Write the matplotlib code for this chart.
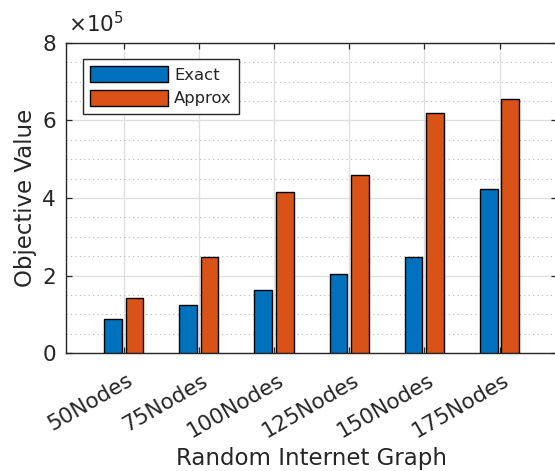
import numpy as np
import matplotlib
matplotlib.use('Agg')
import matplotlib.pyplot as plt
import matplotlib.transforms as mtransforms
from matplotlib.ticker import FuncFormatter, MultipleLocator

# data
categories = ['50Nodes', '75Nodes', '100Nodes', '125Nodes', '150Nodes', '175Nodes']
exact = [0.88e5, 1.24e5, 1.63e5, 2.04e5, 2.47e5, 4.23e5]
approx = [1.42e5, 2.47e5, 4.16e5, 4.60e5, 6.19e5, 6.55e5]

blue = '#0072BD'
orange = '#D95319'
dark = '#262626'

fig = plt.figure(figsize=(5.55, 4.71), dpi=100)
ax = fig.add_axes([0.1184, 0.2499, 0.886, 0.6594])

x = np.arange(1, len(categories) + 1)
w = 0.235
ax.bar(x - 0.143, exact, w, color=blue, edgecolor='black', linewidth=1.0,
       label='Exact', zorder=3)
ax.bar(x + 0.143, approx, w, color=orange, edgecolor='black', linewidth=1.0,
       label='Approx', zorder=3)

ax.set_xlim(0.23, 6.77)
ax.set_ylim(0, 8e5)
ax.set_xticks(x)
ax.set_xticklabels([])
# rotated category labels, anchored a bit right of each tick like MATLAB
lbl_tr = ax.get_xaxis_transform() + mtransforms.ScaledTranslation(
    3 / 100, -17 / 100, fig.dpi_scale_trans)
for xi, name in zip(x, categories):
    ax.text(xi, 0, name, transform=lbl_tr, rotation=30, rotation_mode='anchor',
            ha='right', va='top', fontsize=15.5, color=dark)

ax.set_yticks([0, 2e5, 4e5, 6e5, 8e5])
ax.yaxis.set_minor_locator(MultipleLocator(0.5e5))
ax.yaxis.set_major_formatter(FuncFormatter(lambda v, p: '%g' % (v / 1e5)))

# exponent label like MATLAB
ax.text(0.004, 1.02, r'$\times10^{5}$', transform=ax.transAxes, fontsize=15.5,
        color=dark, ha='left', va='bottom')

# grids: solid major, dotted minor on y
ax.grid(True, which='major', color='#dedede', linewidth=0.9, zorder=0)
ax.grid(True, which='minor', axis='y', color='#b8b8b8', linestyle=(0, (1, 3)),
        linewidth=0.8, zorder=0)
ax.set_axisbelow(True)

ax.tick_params(which='major', direction='in', length=4, width=0.9, color=dark,
               labelsize=15.5, labelcolor=dark, top=True, right=True)
ax.tick_params(axis='y', pad=7)
ax.tick_params(which='minor', length=0)
for s in ax.spines.values():
    s.set_color(dark)
    s.set_linewidth(1.0)

ax.set_xlabel('Random Internet Graph', fontsize=16.5, color=dark)
ax.xaxis.set_label_coords(0.5, -0.302)
ax.set_ylabel('Objective Value', fontsize=16.5, color=dark, labelpad=4)

leg = ax.legend(loc='upper left', bbox_to_anchor=(0.035, 0.948), fontsize=11.8,
                handlelength=4.75, handleheight=1.1, labelspacing=0.45,
                borderpad=0.45, handletextpad=0.35, borderaxespad=0,
                fancybox=False, framealpha=1)
leg.get_frame().set_edgecolor(dark)
leg.get_frame().set_linewidth(1.0)
for t in leg.get_texts():
    t.set_color(dark)

fig.savefig('out.png', dpi=100)
